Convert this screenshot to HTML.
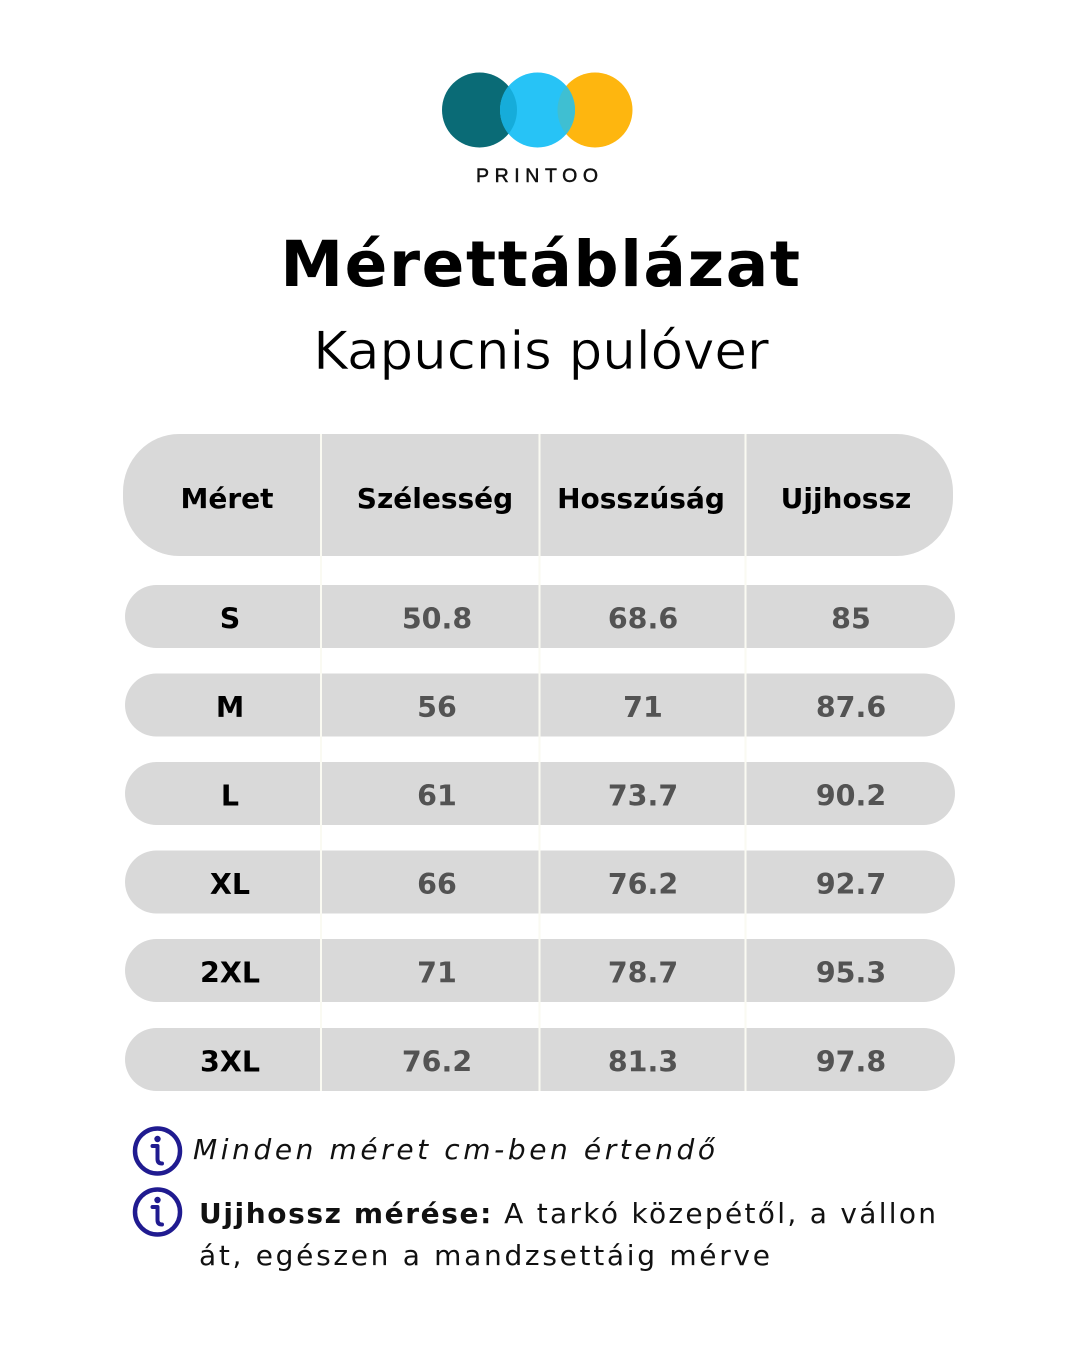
<!DOCTYPE html>
<html>
<head>
<meta charset="utf-8">
<style>
  html, body { margin: 0; padding: 0; background: #ffffff; }
  body { width: 1080px; height: 1350px; overflow: hidden; }
  svg { display: block; }
</style>
</head>
<body>
<svg width="1080" height="1350" viewBox="0 0 1080 1350" xmlns="http://www.w3.org/2000/svg">
  <defs>
    <clipPath id="cb"><circle cx="537.5" cy="110" r="37.5"/></clipPath>
  </defs>
  <rect x="0" y="0" width="1080" height="1350" fill="#ffffff"/>

  <!-- Logo -->
  <circle cx="479.5" cy="110" r="37.5" fill="#0a6b76"/>
  <circle cx="595" cy="110" r="37.5" fill="#feb60f"/>
  <circle cx="537.5" cy="110" r="37.5" fill="#27c3f6"/>
  <g clip-path="url(#cb)">
    <circle cx="479.5" cy="110" r="37.5" fill="#16acda"/>
    <circle cx="595" cy="110" r="37.5" fill="#3fbfd2"/>
  </g>
  <text x="476" y="182" font-family="Liberation Sans, sans-serif" font-size="19.5" letter-spacing="5.6" fill="#111" stroke="#111" stroke-width="0.5">PRINTOO</text>

  <!-- Title -->
  <text x="541" y="286" text-anchor="middle" font-family="DejaVu Sans, sans-serif" font-weight="bold" font-size="63" letter-spacing="1.6" fill="#000">Mérettáblázat</text>
  <text x="541" y="369" text-anchor="middle" font-family="DejaVu Sans, sans-serif" font-size="53" fill="#000" stroke="#fff" stroke-width="0.6">Kapucnis pulóver</text>

  <!-- Table header -->
  <rect x="123" y="434" width="830" height="122" rx="56" ry="58" fill="#d9d9d9"/>

  <!-- Rows -->
  <rect x="125" y="585" width="830" height="63" rx="31.5" fill="#d9d9d9"/>
  <rect x="125" y="673.5" width="830" height="63" rx="31.5" fill="#d9d9d9"/>
  <rect x="125" y="762" width="830" height="63" rx="31.5" fill="#d9d9d9"/>
  <rect x="125" y="850.5" width="830" height="63" rx="31.5" fill="#d9d9d9"/>
  <rect x="125" y="939" width="830" height="63" rx="31.5" fill="#d9d9d9"/>
  <rect x="125" y="1028" width="830" height="63" rx="31.5" fill="#d9d9d9"/>

  <!-- Column dividers -->
  <g stroke="#fafaf2" stroke-width="2">
    <line x1="321" y1="434" x2="321" y2="1091"/>
    <line x1="539.5" y1="434" x2="539.5" y2="1091"/>
    <line x1="745.5" y1="434" x2="745.5" y2="1091"/>
  </g>

  <!-- Header text -->
  <g font-family="DejaVu Sans, sans-serif" font-weight="bold" font-size="28" fill="#000" text-anchor="middle">
    <text x="227" y="508">Méret</text>
    <text x="435" y="508">Szélesség</text>
    <text x="641" y="508">Hosszúság</text>
    <text x="846" y="508">Ujjhossz</text>
  </g>

  <!-- Size labels -->
  <g font-family="DejaVu Sans, sans-serif" font-weight="bold" font-size="28.5" fill="#000" text-anchor="middle">
    <text x="230" y="628.7">S</text>
    <text x="230" y="717.2">M</text>
    <text x="230" y="805.7">L</text>
    <text x="230" y="894.2">XL</text>
    <text x="230" y="982.7">2XL</text>
    <text x="230" y="1071.7">3XL</text>
  </g>

  <!-- Values -->
  <g font-family="DejaVu Sans, sans-serif" font-weight="bold" font-size="28.5" fill="#535353" text-anchor="middle">
    <text x="437" y="628.7">50.8</text>
    <text x="643" y="628.7">68.6</text>
    <text x="851" y="628.7">85</text>

    <text x="437" y="717.2">56</text>
    <text x="643" y="717.2">71</text>
    <text x="851" y="717.2">87.6</text>

    <text x="437" y="805.7">61</text>
    <text x="643" y="805.7">73.7</text>
    <text x="851" y="805.7">90.2</text>

    <text x="437" y="894.2">66</text>
    <text x="643" y="894.2">76.2</text>
    <text x="851" y="894.2">92.7</text>

    <text x="437" y="982.7">71</text>
    <text x="643" y="982.7">78.7</text>
    <text x="851" y="982.7">95.3</text>

    <text x="437" y="1071.7">76.2</text>
    <text x="643" y="1071.7">81.3</text>
    <text x="851" y="1071.7">97.8</text>
  </g>

  <!-- Info icon 1 -->
  <g>
    <circle cx="157.5" cy="1151" r="22.5" fill="#fff" stroke="#201b90" stroke-width="4.5"/>
    <circle cx="157.5" cy="1139" r="3.2" fill="#201b90"/>
    <path d="M152.5,1146 H157.5 V1159 Q157.5,1163.5 162,1163.5" fill="none" stroke="#201b90" stroke-width="4" stroke-linecap="round" stroke-linejoin="round"/>
  </g>
  <!-- Info icon 2 -->
  <g>
    <circle cx="157.5" cy="1212" r="22.5" fill="#fff" stroke="#201b90" stroke-width="4.5"/>
    <circle cx="157.5" cy="1200" r="3.2" fill="#201b90"/>
    <path d="M152.5,1207 H157.5 V1220 Q157.5,1224.5 162,1224.5" fill="none" stroke="#201b90" stroke-width="4" stroke-linecap="round" stroke-linejoin="round"/>
  </g>

  <!-- Notes -->
  <text x="193" y="1159" font-family="DejaVu Sans, sans-serif" font-style="italic" font-size="28" letter-spacing="3.6" fill="#111">Minden méret cm-ben értendő</text>
  <text x="199" y="1223" font-family="DejaVu Sans, sans-serif" font-size="28" fill="#111"><tspan font-weight="bold" letter-spacing="1.6">Ujjhossz mérése:</tspan><tspan letter-spacing="2.3"> A tarkó közepétől, a vállon</tspan></text>
  <text x="199" y="1265" font-family="DejaVu Sans, sans-serif" font-size="28" letter-spacing="2.7" fill="#111">át, egészen a mandzsettáig mérve</text>
</svg>
</body>
</html>
